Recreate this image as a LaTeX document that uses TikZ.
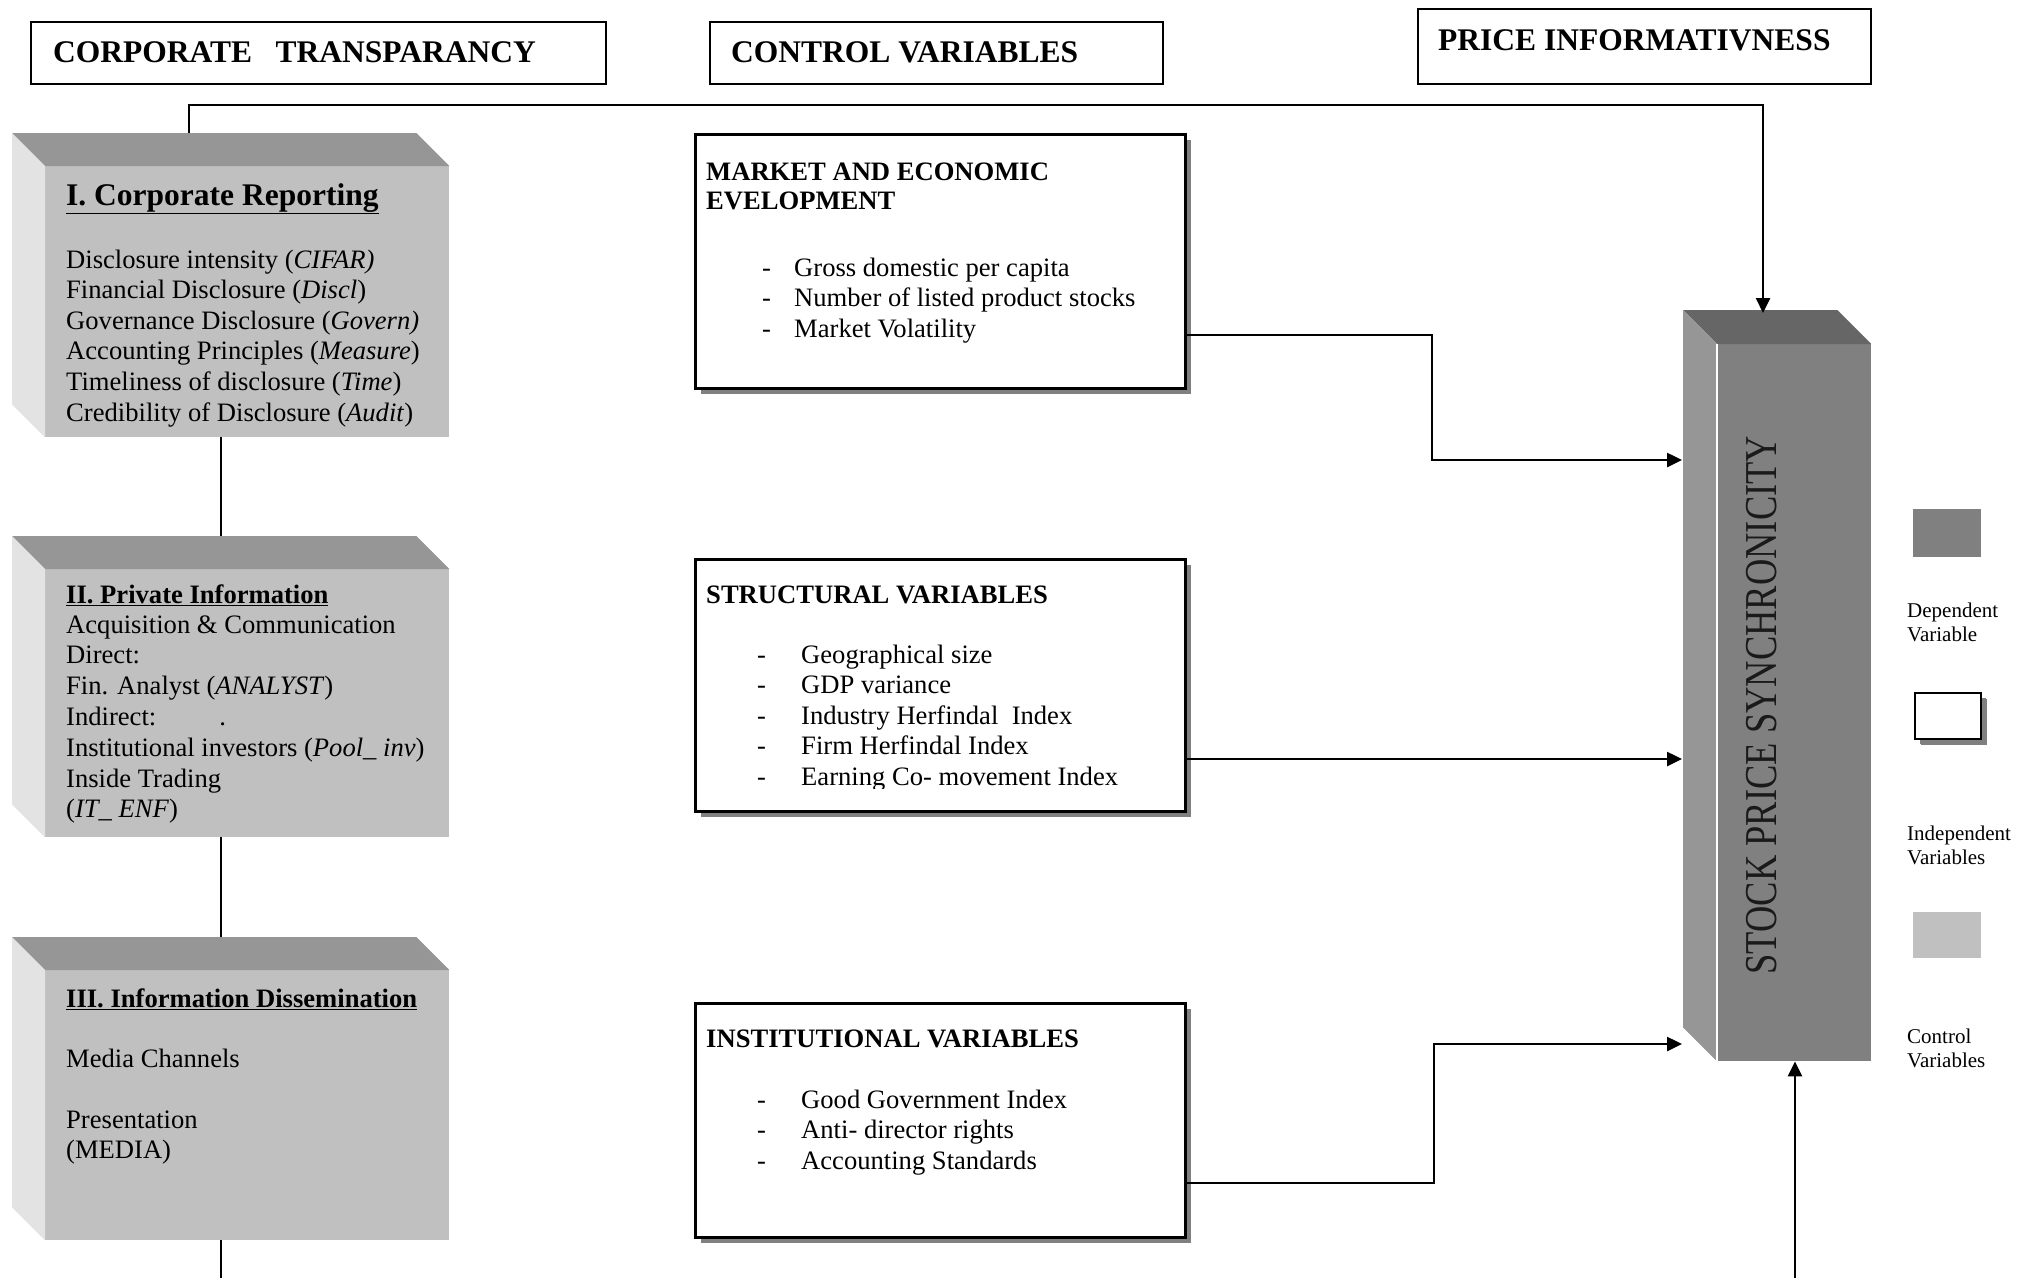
\documentclass[tikz,border=0pt]{standalone}
\usepackage{fontspec}
\setmainfont{Liberation Serif}
\usetikzlibrary{arrows.meta,calc,shadows}

\definecolor{cface}{HTML}{C0C0C0}
\definecolor{ctop}{HTML}{969696}
\definecolor{cleft}{HTML}{E3E3E3}
\definecolor{dface}{HTML}{808080}
\definecolor{dtop}{HTML}{666666}
\definecolor{dleft}{HTML}{969696}
\definecolor{shadecol}{HTML}{808080}
\definecolor{spstext}{HTML}{1A1A1A}

\tikzset{
  conn/.style={line width=2.5pt},
  arr/.style={conn, -{Triangle[length=15pt,width=14pt]}},
  hdrbox/.style={draw, line width=2pt, fill=white, inner sep=0, anchor=north west},
  hdrtxt/.style={font=\fontsize{31.5}{36}\selectfont\bfseries, anchor=base west, inner sep=0},
  body/.style={font=\fontsize{26.6}{30.6}\selectfont, anchor=base west, inner sep=0},
  btitle/.style={font=\fontsize{26.6}{30.6}\selectfont\bfseries, anchor=base west, inner sep=0},
  bigtitle/.style={font=\fontsize{31.5}{36}\selectfont\bfseries, anchor=base west, inner sep=0},
  face/.style={fill=cface, draw=none, inner sep=0, anchor=north west},
  dface/.style={fill=dface, draw=none, inner sep=0, anchor=north west},
  ctrlbox/.style={draw, line width=2.5pt, fill=white, inner sep=0, anchor=north west,
    drop shadow={shadow xshift=6pt, shadow yshift=-6pt, fill=shadecol, opacity=1}},
  legtxt/.style={font=\fontsize{21}{24}\selectfont, anchor=base west, inner sep=0},
}

\newcommand\boxthreed[5]{%
  \fill[#2] ($(#1.north west)+(-#4,-#5)$) -- ($(#1.north east)+(-#4,-#5)$) -- (#1.north east) -- (#1.north west) -- cycle;
  \fill[#3] ($(#1.north west)+(-#4,-#5)$) -- (#1.north west) -- (#1.south west) -- ($(#1.south west)+(-#4,-#5)$) -- cycle;
}

\begin{document}
\begin{tikzpicture}[x=1pt,y=-1pt]
\useasboundingbox[fill=white] (0,0) rectangle (2025,1278);

% ---------- headers ----------
\node[hdrbox, minimum width=575pt, minimum height=62pt] (ct) at (30,21) {};
\node[hdrtxt] (ctt) at (53,62) {CORPORATE\ \ \ TRANSPARANCY};
\node[hdrbox, minimum width=453pt, minimum height=62pt] (cv) at (709,21) {};
\node[hdrtxt] (cvt) at (731,62) {CONTROL VARIABLES};
\node[hdrbox, minimum width=453pt, minimum height=75pt] (pinf) at (1417,8) {};
\node[hdrtxt] (pinft) at (1438,50) {PRICE INFORMATIVNESS};

% ---------- 3D boxes (left column) ----------
\node[face, minimum width=404pt, minimum height=271pt] (cr) at (45,166) {};
\boxthreed{cr}{ctop}{cleft}{33}{33}
\node[face, minimum width=404pt, minimum height=268pt] (pi) at (45,569) {};
\boxthreed{pi}{ctop}{cleft}{33}{33}
\node[face, minimum width=404pt, minimum height=270pt] (id) at (45,970) {};
\boxthreed{id}{ctop}{cleft}{33}{33}

% Box I text
\node[bigtitle] (crt) at (66,205) {\underline{I. Corporate Reporting}};
\foreach \t [count=\i from 0] in {
  Disclosure intensity (\textit{CIFAR)},
  Financial Disclosure (\textit{Discl}),
  Governance Disclosure (\textit{Govern)},
  Accounting Principles (\textit{Measure}),
  Timeliness of disclosure (\textit{Time}),
  Credibility of Disclosure (\textit{Audit})}
  \node[body] (crl\i) at (66,{268+30.6*\i}) {\t};

% Box II text
\node[btitle] (pit) at (66,603) {\underline{II. Private Information}};
\foreach \t [count=\i from 0] in {
  Acquisition \& Communication,
  Direct:,
  Fin. Analyst (\textit{ANALYST}),
  Indirect:\hspace*{63pt}.,
  Institutional investors (\textit{Pool\_ inv}),
  Inside Trading,
  (\textit{IT\_ ENF})}
  \node[body] (pil\i) at (66,{633+30.8*\i}) {\t};

% Box III text
\node[btitle] (idt) at (66,1007) {\underline{III. Information Dissemination}};
\node[body] (idl1) at (66,1067) {Media Channels};
\node[body] (idl2) at (66,1128) {Presentation};
\node[body] (idl3) at (66,1158) {(MEDIA)};

% ---------- control variable boxes ----------
\node[ctrlbox, minimum width=490pt, minimum height=254pt] (mk) at (694,133) {};
\node[btitle] (mkt1) at (706,180) {MARKET AND ECONOMIC};
\node[btitle] (mkt2) at (706,209) {EVELOPMENT};
\foreach \t [count=\i from 0] in {Gross domestic per capita, Number of listed product stocks, Market Volatility}{
  \node[body] (mkd\i) at (762,{276+30.5*\i}) {-};
  \node[body] (mkl\i) at (794,{276+30.5*\i}) {\t};
}

\node[ctrlbox, minimum width=490pt, minimum height=252pt] (st) at (694,558) {};
\node[btitle] (stt) at (706,603) {STRUCTURAL VARIABLES};
\begin{scope}
\clip (694,558) rectangle (1184,788);
\foreach \t [count=\i from 0] in {Geographical size, GDP variance, Industry Herfindal\ \ Index, Firm Herfindal Index, Earning Co- movement Index}{
  \node[body] (std\i) at (757,{663+30.5*\i}) {-};
  \node[body] (stl\i) at (801,{663+30.5*\i}) {\t};
}
\end{scope}

\node[ctrlbox, minimum width=490pt, minimum height=234pt] (in) at (694,1002) {};
\node[btitle] (intt) at (706,1047) {INSTITUTIONAL VARIABLES};
\foreach \t [count=\i from 0] in {Good Government Index, Anti- director rights, Accounting Standards}{
  \node[body] (ind\i) at (757,{1108+30.5*\i}) {-};
  \node[body] (inl\i) at (801,{1108+30.5*\i}) {\t};
}

% ---------- dependent variable box ----------
\node[dface, minimum width=154pt, minimum height=717pt] (sps) at (1717,344) {};
\boxthreed{sps}{dtop}{dleft}{34}{34}
\draw[white, line width=1.5pt] (sps.north west) -- (sps.south west);
\node[rotate=90, inner sep=0, text=spstext, font=\fontsize{36.5}{40}\selectfont] (spst) at (1762,705)
  {\scalebox{1}[1.25]{STOCK PRICE SYNCHRONICITY}};
\coordinate (spsBL) at ($(sps.north west)+(-35,0)$);

% ---------- legend ----------
\node[dface, minimum width=68pt, minimum height=48pt] (lg1) at (1913,509) {};
\node[legtxt] (lg1a) at (1907,617) {Dependent};
\node[legtxt] (lg1b) at (1907,641) {Variable};
\node[ctrlbox, line width=2pt, minimum width=66pt, minimum height=46pt,
  drop shadow={shadow xshift=5pt, shadow yshift=-5pt, fill=shadecol, opacity=1}] (lg2) at (1914,692) {};
\node[legtxt] (lg2a) at (1907,840) {Independent};
\node[legtxt] (lg2b) at (1907,864) {Variables};
\node[face, minimum width=68pt, minimum height=46pt] (lg3) at (1913,912) {};
\node[legtxt] (lg3a) at (1907,1043) {Control};
\node[legtxt] (lg3b) at (1907,1067) {Variables};

% ---------- connectors ----------
\coordinate (spine) at (221,0);
\coordinate (topline) at (189,105);
\coordinate (bottomedge) at (0,1278);

% corporate transparency -> stock price synchronicity
\draw[arr] ($(cr.north west)+(144,-33)$) -- (topline) -| ($(sps.north west)+(46,-31)$);

% spine between left boxes
\draw[conn] (cr.south -| spine) -- ($(pi.north -| spine)+(0,-33)$);
\draw[conn] (pi.south -| spine) -- ($(id.north -| spine)+(0,-33)$);
\draw[conn] (id.south -| spine) -- (spine |- bottomedge);

% control boxes -> SPS
\draw[arr] (mk.east |- 0,335) -| (1432,460) -- (spsBL |- 0,460);
\draw[arr] (st.east |- 0,759) -- (spsBL |- 0,759);
\draw[arr] (in.east |- 0,1183) -| (1434,1044) -- (spsBL |- 0,1044);

% from below
\coordinate (botarrow) at (1795,1278);
\draw[arr] (botarrow) -- (sps.south -| botarrow);

\end{tikzpicture}
\end{document}
